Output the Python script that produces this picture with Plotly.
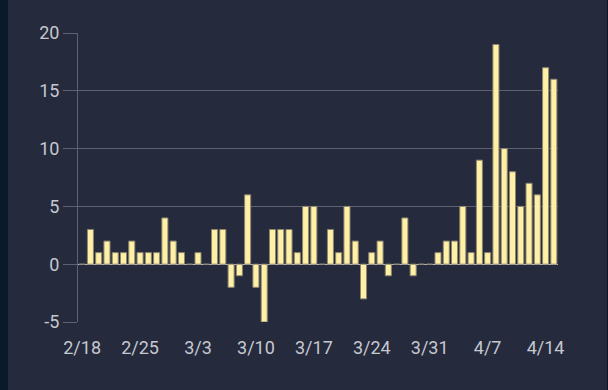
import plotly.graph_objects as go

categories = (
    [f"2/{d}" for d in range(18, 30)]
    + [f"3/{d}" for d in range(1, 32)]
    + [f"4/{d}" for d in range(1, 16)]
)

values = [
    0, 3, 1, 2, 1, 1, 2, 1, 1, 1,
    4, 2, 1, 0, 1, 0, 3, 3, -2, -1,
    6, -2, -5, 3, 3, 3, 1, 5, 5, 0,
    3, 1, 5, 2, -3, 1, 2, -1, 0, 4,
    -1, 0, 0, 1, 2, 2, 5, 1, 9, 1,
    19, 10, 8, 5, 7, 6, 17, 16,
]

tick_labels = ["2/18", "2/25", "3/3", "3/10", "3/17", "3/24", "3/31", "4/7", "4/14"]
y_ticks = [-5, 0, 5, 10, 15, 20]
y_tick_labels = ["-5", "0", "5", "10", "15", "20"]

BG = "#252a3d"
EDGE = "#0b1a2a"
GRID = "#5d6170"
TEXT = "#c6c8d0"

PW, PH = 480, 289  # plot area size in px (used for edge strips)

fig = go.Figure(
    go.Bar(
        x=categories,
        y=values,
        marker=dict(color="#fff0a6", line=dict(color="#8c8670", width=1)),
    )
)

fig.update_layout(
    width=608,
    height=390,
    paper_bgcolor=BG,
    plot_bgcolor=BG,
    margin=dict(l=78, r=50, t=33, b=68),
    bargap=0.27,
    showlegend=False,
    font=dict(family="Roboto, Arial, sans-serif", size=18, color=TEXT),
    shapes=[
        dict(type="rect", xref="paper", yref="paper",
             x0=-78 / PW, x1=-70 / PW, y0=-68 / PH, y1=(390 - 68) / PH,
             fillcolor=EDGE, line=dict(width=0), layer="below"),
        dict(type="rect", xref="paper", yref="paper",
             x0=(607 - 78) / PW, x1=(608 - 78) / PW, y0=-68 / PH, y1=(390 - 68) / PH,
             fillcolor=EDGE, line=dict(width=0), layer="below"),
    ],
)

fig.update_xaxes(
    type="category",
    tickmode="array",
    tickvals=tick_labels,
    ticktext=tick_labels,
    showgrid=False,
    showline=False,
    zeroline=False,
    ticks="outside",
    ticklen=9,
    tickcolor="rgba(0,0,0,0)",
    tickfont=dict(size=18, color=TEXT),
)

fig.update_yaxes(
    range=[-5, 20],
    tickmode="array",
    tickvals=y_ticks,
    ticktext=y_tick_labels,
    showgrid=True,
    gridcolor=GRID,
    gridwidth=1,
    zeroline=True,
    zerolinecolor="#b4b8c6",
    zerolinewidth=1,
    showline=True,
    linecolor=GRID,
    linewidth=1,
    ticks="outside",
    ticklen=14,
    tickcolor=GRID,
    tickfont=dict(size=18, color=TEXT),
)

fig.write_html(
    "out.html",
    config={"displayModeBar": False},
    post_script="document.body.style.margin='0';document.body.style.background='#252a3d';",
)
